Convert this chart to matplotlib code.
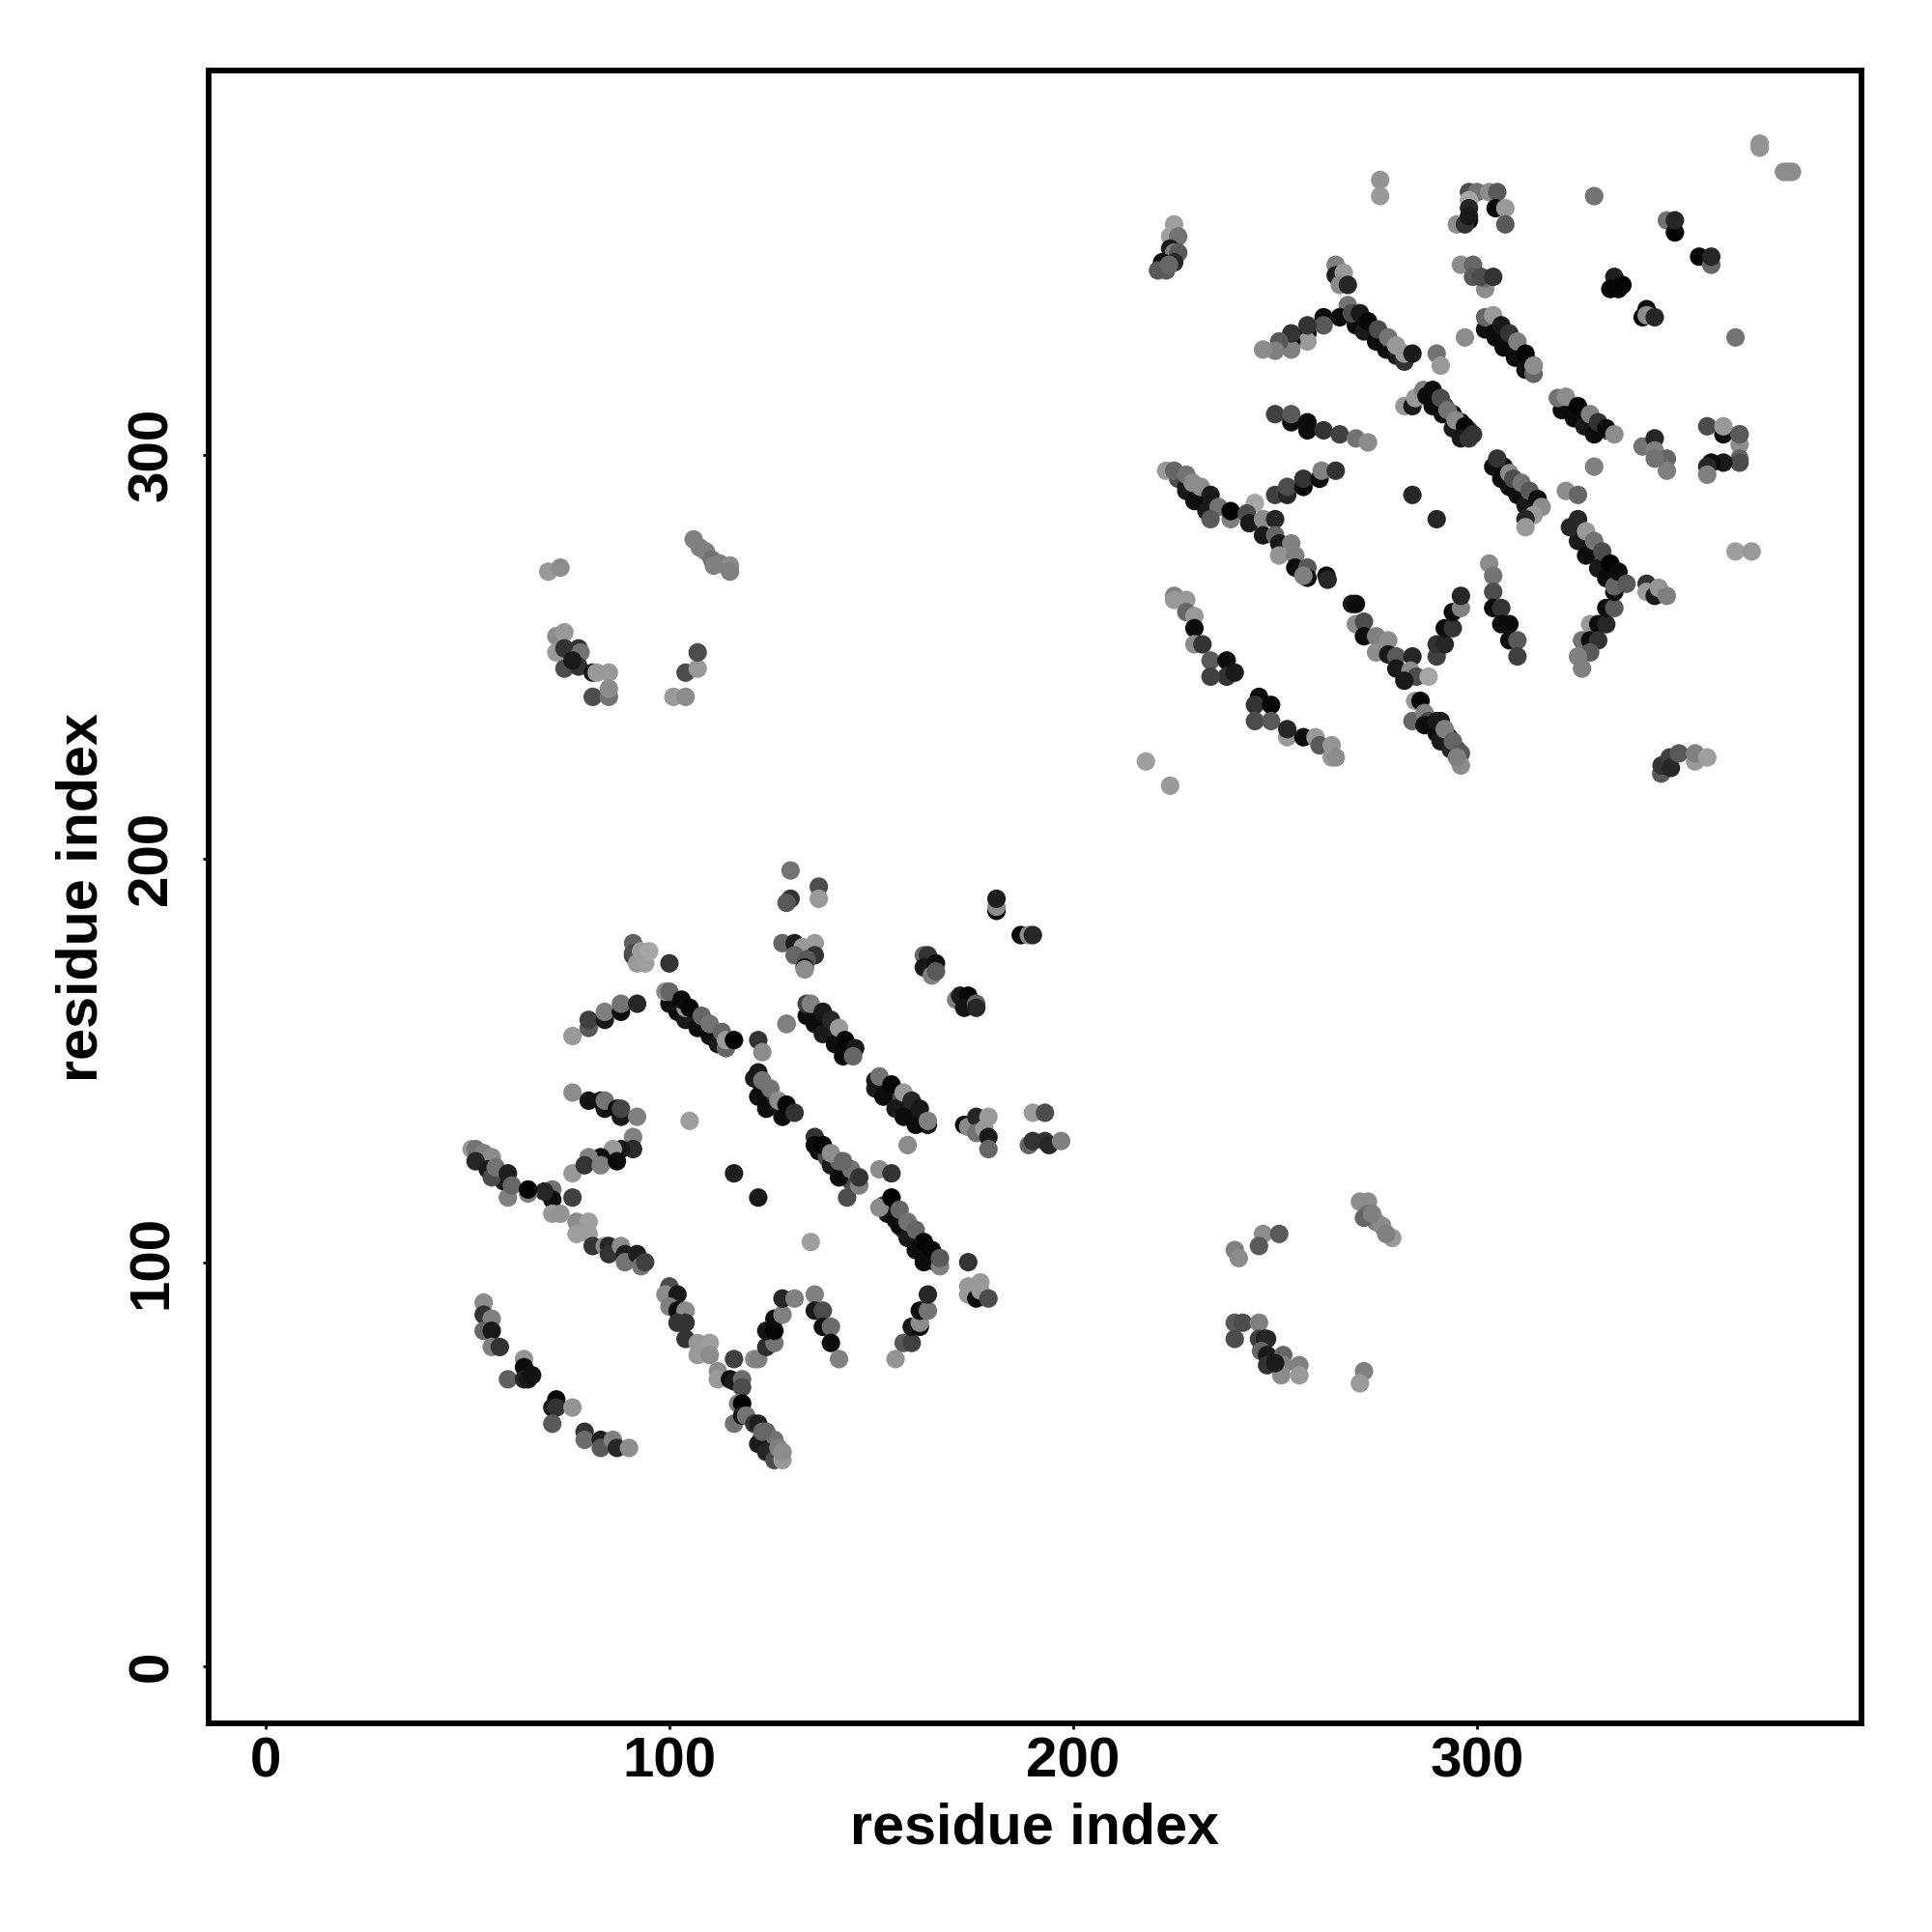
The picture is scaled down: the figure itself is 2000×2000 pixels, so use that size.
import matplotlib
matplotlib.use('Agg')
import matplotlib.pyplot as plt

# contact points, one line per stretch of the map, draw order = list order
# dense middle of the diagonal stripes, drawn underneath the rest
stripe_x = [101, 103, 105, 107, 109, 111, 113,
            121, 123, 125, 127, 129,
            135, 137, 139, 141, 143, 145,
            152, 154, 156, 158, 160, 162, 164,
            137, 139, 141, 143, 145,
            154, 156, 158, 160, 162, 164, 166,
            53, 55, 57, 59,
            123, 125, 127,
            271, 273, 275, 277, 279, 281,
            304, 306, 308, 310, 312, 314,
            322, 324, 326, 328, 330, 332,
            290, 292, 294, 296, 298,
            306, 308, 310, 312, 314,
            325, 327, 329, 331, 333, 335,
            291, 293, 295,
            226, 228, 230, 232, 234]
stripe_y = [165, 163, 161.5, 160, 158, 156.5, 155,
            145.5, 143, 141, 139.5, 137.5,
            162, 160, 158, 156, 153.5, 152,
            144, 142.5, 140.5, 139, 137.5, 135.5, 134,
            127.5, 126, 124, 122, 120,
            112, 110.5, 108, 106, 104, 102, 100,
            126, 124, 122, 120,
            57, 55, 53,
            333.5, 332, 330, 328, 326.5, 325,
            332, 330.5, 328.5, 326.5, 324, 322,
            312.5, 311, 309.5, 308, 307, 306,
            314, 312, 310, 308, 306,
            296, 294, 292, 290, 288,
            281, 279, 277, 274, 271, 269,
            232, 230, 227,
            294, 292, 290, 288, 286]
stripe_g = [.05, .3, .1, .05, .3, .1, .05,
            .1, .05, .3, .1, .05,
            .05, .1, .3, .05, .1, .05,
            .1, .05, .3, .1, .05, .3, .1,
            .05, .3, .1, .05, .3,
            .1, .05, .3, .05, .1, .3, .05,
            .3, .1, .3, .1,
            .3, .1, .3,
            .05, .3, .1, .05, .3, .1,
            .05, .1, .3, .05, .1, .05,
            .1, .05, .3, .1, .05, .3,
            .05, .3, .1, .05, .3,
            .1, .05, .3, .1, .05,
            .05, .1, .05, .3, .1, .05,
            .3, .1, .3,
            .3, .1, .05, .3, .1]

# lower left block
lower_x = [91, 91, 91, 92, 94, 93, 95, 100,
           76, 80, 80, 84, 84, 88, 88, 92,
           100, 102, 104, 107, 110, 112, 104, 99, 100, 103, 105, 108, 110, 113, 114, 114, 116,
           76, 80, 84, 83, 84, 88, 87, 88, 92,
           105, 91, 91, 88, 86, 83, 80,
           76, 79, 83, 87, 76, 71, 71, 69, 71, 73, 77, 80, 77, 80,
           81, 84, 85, 85, 88, 89, 89, 92, 93, 94,
           51, 52, 54, 56, 52, 55, 56, 57, 60, 60, 61, 65, 65,
           54, 54, 56, 54, 56, 56, 58, 64, 64, 60, 64, 65, 66,
           72, 71, 72, 76, 71, 79, 79, 83, 83, 86, 87, 90,
           100, 99, 102, 100, 102, 104, 102, 104, 104, 107, 110, 107, 110, 116, 121,
           112, 112, 115, 116, 118, 118, 117, 118, 116, 118, 119, 121,
           116]
lower_y = [179, 176, 176.5, 174, 174, 177, 177, 174,
           156, 158, 160, 160, 162, 162, 164, 164,
           164, 162, 160, 158, 156, 154, 163, 167, 167, 165, 163, 161, 159, 157, 153, 155, 155,
           142, 140, 138, 140, 140, 136, 138, 138, 136,
           135, 131, 128, 128, 128, 126, 126,
           122, 124, 124, 125, 116, 118, 115.5, 117.5, 112, 112, 110, 110, 107, 107,
           104, 104, 104, 102, 104, 102, 100, 102, 99, 100,
           128, 128, 127, 126, 125, 123, 121, 123.5, 122, 116, 119, 117, 118,
           90, 87, 86, 83, 83, 79, 79, 76, 74, 71, 71, 71, 72,
           66, 64, 64, 64, 60, 58, 56, 56, 54, 56, 54, 54,
           94, 92, 92, 89, 88, 88, 85, 85, 81, 80, 80, 77, 77, 76, 76,
           73, 71, 71, 70.5, 71, 69, 65, 65, 60, 62, 62, 60,
           122]
lower_g = [.38, .15, .3, .6, .62, .62, .65, .2,
           .6, .35, .25, .1, .5, .05, .45, .15,
           .05, .05, .1, .05, .05, .1, .6, .55, .4, .05, .02, .4, .45, .4, .4, .6, 0,
           .55, .07, .07, .07, .45, .1, .05, .27, .5,
           .62, .5, .17, .1, .6, .05, .5,
           .6, .2, .5, .05, .25, .45, .05, .15, .6, .58, .55, .62, .62, .62,
           .2, .55, .15, .2, .55, .12, .45, .12, .45, .25,
           .6, .45, .5, .55, .15, .1, .3, .45, .12, .5, .4, .5, 0,
           .55, .2, .5, .4, .1, .5, .2, .58, .05, .38, .15, .1, .07,
           .02, .1, .2, .58, .35, .2, .42, .12, .35, .5, .15, .55,
           .3, .55, .1, .5, .05, .55, .2, .2, .2, .6, .62, .6, .55, .25, .55,
           .55, .6, .05, .1, .42, .3, .5, 0, .45, .1, .45, .2,
           .12]

# lower left block, second half
lower2_x = [122, 124, 126, 122, 124, 126, 127, 128, 128, 123,
            122, 124, 126, 124, 126, 126, 128, 128, 131, 136, 136, 138, 138, 140, 140, 142,
            156, 158, 160, 160, 162, 162, 162, 164, 164,
            174, 174, 174, 177, 176, 177, 179,
            155, 157, 159, 161, 163, 153, 152, 155, 157, 159, 161, 163, 165, 167, 167,
            144, 140, 142, 147, 142, 145, 147, 152, 155, 122,
            135,
            129, 130, 130, 129, 137, 137,
            128, 131, 133, 136, 136, 131, 134, 133.5, 133.5,
            181, 181, 181, 187, 189, 190,
            163, 164, 163, 165, 166, 166,
            171, 172, 174, 173, 176, 176,
            129, 122, 123,
            134, 136, 138, 141, 143, 134, 135, 138, 140, 142, 143.5, 146, 145.5,
            122, 124, 128, 122, 123, 125, 127, 129, 131,
            151, 151, 153, 156, 158, 161, 152, 155, 158, 160, 162, 164,
            159,
            173, 174, 176, 179, 176, 178, 179, 179,
            190, 193,
            189, 190, 193, 194, 197,
            136, 136, 138, 140, 143]
lower2_y = [60, 58, 56, 55, 53, 51, 54, 51, 53, 58,
            76, 79, 80, 83, 83, 86, 87, 91, 91, 92, 88, 88, 84, 84, 80, 76,
            76, 80, 80, 84, 84, 85, 88, 88, 92,
            100, 94, 92, 95, 91, 93, 91,
            112, 109, 106, 103, 100, 114, 113.5, 116, 113, 110, 108, 105, 103, 99, 101,
            116, 124, 121, 119, 125, 123, 121, 123, 122, 116,
            105,
            159, 197, 190, 189, 193, 190,
            179, 179, 178, 179, 176, 176, 175, 173, 172.5,
            187, 188, 190, 181, 181, 181,
            176, 176, 173, 171, 174, 172,
            165, 166, 166, 163, 164, 163,
            159, 155, 152,
            161, 159, 156.5, 154, 151, 164, 164, 162, 160, 158, 155, 153, 151,
            141, 138, 136, 147, 145, 143, 140, 139, 137,
            143, 145, 141, 138, 136, 134, 146, 144, 142, 140, 138, 135,
            129,
            134, 133.5, 136, 136, 132, 133, 131, 128,
            137, 137,
            129, 130, 130, 129, 130,
            131, 129, 129, 127, 125]
lower2_g = [.12, .4, .45, .1, .15, .3, .5, .6, .55, .4,
            .5, .18, .45, .07, .02, .05, .5, .15, .5, .5, .1, .3, .05, .42, .05, .5,
            .58, .35, .25, .1, .05, .55, .05, .45, .15,
            .2, .6, .6, .6, .05, .6, .3,
            .05, .05, .1, .05, .05, .1, .55, 0, .4, .45, .4, .02, .03, .5, .35,
            .3, .1, .05, .5, .4, .45, .2, .55, .2, .1,
            .62,
            .5, .45, .2, .35, .3, .6,
            .4, .12, .6, .6, .2, .4, .35, .05, .55,
            .02, .55, .12, .03, .55, .15,
            .4, .2, .1, .5, .05, .35,
            .5, .1, .03, .08, .4, .15,
            .5, .2, .55,
            .05, .05, .1, .05, .05, .25, .5, .1, .15, .6, .02, .1, .4,
            .05, .05, .05, .1, .45, .45, .55, .02, .2,
            .1, .1, .05, .1, .05, .05, .45, .02, .6, .15, .1, .5,
            .55,
            .03, .55, .15, .6, .45, .6, .1, .4,
            .6, .3,
            .4, .2, .2, .15, .5,
            .2, .05, .02, .55, .4]

# off diagonal blocks
corner_x = [240, 241, 247, 251, 246, 240, 242, 240, 246, 246, 247.5, 248, 246.5, 248, 252, 248, 252, 251.5, 256, 256, 250,
            272, 271, 271, 273, 273, 275, 276.5, 279, 272, 274, 277.5,
            70, 73, 106, 107.5, 109, 110.5, 112.5, 115, 115, 111,
            101, 104, 104, 107, 107,
            72, 74, 72, 74, 74, 77.5, 78, 77.5, 81, 82, 85, 81, 85, 85, 76]
corner_y = [103, 101, 107, 107, 104, 85, 85, 81, 85, 81, 81, 81, 78, 77, 77, 74.5, 74.5, 72, 74.5, 72, 75,
            73, 70, 115, 115, 112, 110, 109, 106, 111, 112, 107,
            271, 272, 279, 277, 276, 274, 273, 272.5, 271, 272.5,
            240, 240, 246, 247, 251,
            255, 256, 251, 252, 247, 252, 251, 247.5, 246, 246, 246, 240, 240, 242, 249]
corner_g = [.5, .55, .55, .35, .35, .35, .3, .3, .5, .25, .1, .15, .4, .1, .4, .2, .5, .55, .5, .6, .1,
            .5, .6, .55, .55, .45, .5, .55, .6, .4, .5, .5,
            .6, .55, .5, .5, .5, .45, .5, .55, .5, .5,
            .6, .55, .3, .6, .3,
            .55, .6, .6, .2, .3, .2, .45, .2, .1, .6, .6, .3, .45, .55, .1]

# upper right block
upper_x = [225, 224, 226, 224, 225, 226, 222, 225, 221, 223, 223.7,
           276, 276, 265, 265, 267, 266, 268,
           268, 266, 262, 262, 258, 258, 258, 254, 254, 254, 251, 250, 247,
           270, 272, 275, 277.5, 280, 269, 271, 273, 275.5, 278, 280, 282, 282, 284,
           254, 250, 254, 258, 258, 262, 266, 270, 273,
           282, 284, 284.7, 286.7, 287.5,
           228, 230, 233, 223, 225, 228, 229.6, 231.6, 234, 236, 234, 239, 239,
           245, 243, 243.6, 247, 250, 247, 250, 251, 254, 251, 255, 255, 258, 258, 257, 262.7, 263,
           250, 253, 253, 257, 257, 261, 261.5, 265,
           284, 290,
           225, 225, 228, 228, 230, 230, 230, 232, 234, 238, 238, 240, 234,
           246, 245, 249, 245, 249, 253, 253, 257, 260, 261, 264, 264, 265,
           218, 224]
upper_y = [357, 354, 354, 351, 350, 350, 347.6, 347.6, 345.6, 345.6, 347,
           368, 364, 347, 344.4, 345, 342, 342,
           337, 334, 334, 332, 330, 328, 332, 328, 326, 330, 328, 325.7, 326,
           332, 330.5, 328, 326, 324.5, 335, 335, 333, 331, 329, 327, 323, 325, 325,
           308, 310, 310, 308, 306, 306, 305, 304, 303,
           312, 312, 314, 316, 314.5,
           291, 288.5, 286, 296, 296, 295, 293, 292, 290, 287, 284, 284, 286,
           288, 285.4, 283, 284, 284, 280, 280, 278, 278, 275, 275, 272, 272, 269.5, 270, 270, 269,
           290, 290, 292, 292, 294, 294, 296, 296,
           290, 284,
           265, 264, 264, 261, 260, 257, 253, 253, 249, 249, 245, 246, 245,
           240, 238, 238, 234, 234, 230, 232, 230, 230, 228, 228, 225, 225,
           224, 218]
upper_g = [.62, .62, .45, .1, .5, .35, .05, .15, .35, .35, .4,
           .58, .6, .5, .12, .6, .55, .15,
           .45, .05, .05, .35, .05, .6, .2, .05, .5, .2, .35, .5, .55,
           .05, .1, .05, .05, .1, .3, .1, .03, .3, .45, .6, .2, .6, .1,
           .05, .25, .35, .05, .05, .2, .25, .45, .55,
           .6, .1, .6, .5, .05,
           .1, .05, .1, .6, .4, .45, .55, .55, .1, .45, .35, .5, 0,
           .65, .3, .1, .55, .15, .1, .4, .1, .5, .58, .5, .05, .35, .05, .5, .03, .15,
           .25, .15, .3, .03, .2, .05, .5, .2,
           .15, .15,
           .5, .6, .6, .4, .6, .05, .55, .2, .35, .05, .2, .1, .25,
           .05, .2, .03, .3, .35, .6, .15, .05, .6, .35, .58, .6, .55,
           .62, .6]

# upper right block, second half
upper2_x = [269, 270, 270, 272, 272, 275, 278, 275, 278, 280, 280, 284, 283.5, 285, 288, 282,
            284.7, 286, 284, 287, 288, 287,
            290, 291, 291, 293.5, 290, 292, 294, 296, 296, 295,
            290, 290, 292, 292, 294, 294, 296, 296,
            303, 304, 304, 304, 306, 306, 308, 308, 310, 310,
            328, 330, 332, 326, 328, 330, 328, 325, 326, 332, 334, 334,
            325, 327, 330, 332, 334, 325, 323, 327, 329, 331, 333, 335, 337,
            342, 342, 344, 345, 347,
            364, 368,
            345.6, 345.7, 347.7, 348, 350, 354, 354, 357,
            304, 306.6, 306, 308, 310, 312, 305, 308, 309, 311, 313, 315, 316, 314, 312, 312,
            329, 322, 325,
            341, 344, 344, 347, 347, 344,
            361, 365, 365, 365, 365, 361, 358, 357, 357, 357, 361, 365]
upper2_y = [263, 263, 258, 258.6, 255, 255, 254, 251, 250.5, 250, 247, 250, 246.5, 245, 245, 244,
            239, 239, 234, 236, 234, 233,
            231, 229, 234, 227, 234, 232, 229, 226, 223, 225,
            250, 253, 253, 257, 257, 261, 262, 265,
            273, 270, 266, 262, 262, 258, 258, 254, 254, 250,
            258, 258, 258, 254, 254, 254, 251, 250, 247, 262, 262, 266,
            278.6, 275, 271.8, 269.4, 267.4, 284, 282, 281, 278.6, 276, 273, 271, 268,
            268, 266, 265, 267, 265,
            276, 276,
            221, 223, 225, 222.4, 226, 224, 226, 225,
            297, 297, 294, 292, 290, 287.4, 299, 295.4, 294, 293, 291, 289, 287, 285, 284, 282,
            297, 291, 290,
            302, 304, 301, 299, 296, 299,
            305, 305, 302.5, 299, 298, 298, 298, 297, 295, 307, 307, 305]
upper2_g = [.1, .05, .55, .3, .05, .5, .55, .55, .1, .35, .1, .15, .55, .3, .65, .1,
            .6, .02, .4, .5, .3, .05,
            .05, .1, .1, .15, .1, .5, .4, .35, .55, .5,
            .25, .2, .15, .05, .2, .05, .5, .15,
            .55, .45, .3, .05, .2, .05, .05, .05, .35, .25,
            .6, .05, .15, .45, .05, .2, .35, .5, .5, .05, .35, .05,
            .1, .05, .1, .05, .4, .15, .15, .6, .45, .3, .01, .05, .35,
            .2, .6, .1, .58, .5,
            .62, .6,
            .35, .2, .25, .15, .35, .6, .5, .62,
            .05, .05, .05, .05, .05, .1, .2, .55, .3, .45, .35, .05, .55, .6, .15, .6,
            .5, .55, .4,
            .45, .15, .5, .4, .5, .45,
            .05, .3, .55, .4, .3, .1, .05, .15, .5, .3, .6, .35]

# top right stretches
top_x = [298, 300, 303, 305, 298, 298, 304.6, 307, 307, 295, 298, 297, 298,
         329, 347, 349, 349, 355, 358, 358,
         370, 370, 376, 377, 378,
         296, 299, 299, 302, 302, 301, 304,
         334, 336, 333, 335,
         342, 341, 342, 344,
         364, 297, 290, 291,
         302, 304.6, 306.6, 309.4, 312, 302, 304, 306, 308, 310, 312, 314, 314,
         321, 324, 326.6, 329, 320, 322, 325, 328, 330, 332, 334,
         289, 291.5, 294, 289, 291, 292.7, 294.7, 297, 299, 296, 298]
top_y = [365, 365, 365, 365, 363, 361, 361, 361, 357, 357, 358, 357, 359,
         364, 358, 355, 358, 349, 347, 349,
         377, 376, 370, 370, 370,
         347, 347, 344, 341, 343.6, 344, 344,
         344, 342, 341, 341,
         336, 334, 334.5, 334,
         329, 329, 325, 322,
         331, 329, 326.5, 324, 321, 334, 334.5, 332, 330, 328, 325, 320, 322,
         311, 309, 307, 305, 314, 314.3, 312, 310, 308, 306.5, 305,
         312, 310, 306.5, 316, 314, 311, 308.5, 307, 305, 304, 304]
top_g = [.3, .45, .55, .35, .65, .15, .03, .6, .35, .55, .03, .2, .1,
         .45, .45, .01, .15, .02, .4, .15,
         .58, .58, .55, .55, .55,
         .55, .4, .35, .55, .45, .3, .2,
         .12, .01, .02, .02,
         .02, .02, .55, .15,
         .45, .55, .45, .6,
         .05, .05, .05, .05, .05, .4, .6, .1, .2, .5, .02, .4, .55,
         .05, .05, .1, .05, .45, .55, .02, .5, .2, .05, .55,
         .05, .05, .1, .05, .3, .45, .55, .02, .2, .1, .2]

tick_values = [0, 100, 200, 300]

plt.rcParams['font.family'] = ['Liberation Sans', 'DejaVu Sans']
plt.rcParams['font.weight'] = 'bold'

fig = plt.figure(figsize=(20, 20), dpi=100)
ax = fig.add_axes([216 / 2000, 216 / 2000, 1711 / 2000, 1711 / 2000])

groups = [(stripe_x, stripe_y, stripe_g),
          (lower_x, lower_y, lower_g), (lower2_x, lower2_y, lower2_g),
          (corner_x, corner_y, corner_g),
          (upper_x, upper_y, upper_g), (upper2_x, upper2_y, upper2_g),
          (top_x, top_y, top_g)]
for xs, ys, gs in groups:
    ax.scatter(xs, ys, c=gs, cmap='gray', vmin=0, vmax=1, s=190, linewidths=0, zorder=2)

ax.set_xlim(-14.1, 395.2)
ax.set_ylim(-14.2, 395.1)
ax.set_xticks(tick_values)
ax.set_yticks(tick_values)
ax.tick_params(axis='x', length=4.5, width=2, labelsize=42, pad=5)
ax.tick_params(axis='y', length=4.5, width=2, labelsize=42, pad=18)
for label in ax.get_yticklabels():
    label.set_rotation(90)
    label.set_va('center')
for side in ax.spines.values():
    side.set_linewidth(4.2)
ax.set_xlabel('residue index', fontsize=42.7, fontweight='bold', labelpad=10)
ax.set_ylabel('residue index', fontsize=42.7, fontweight='bold', labelpad=13)

plt.savefig('out.png', dpi=100)
